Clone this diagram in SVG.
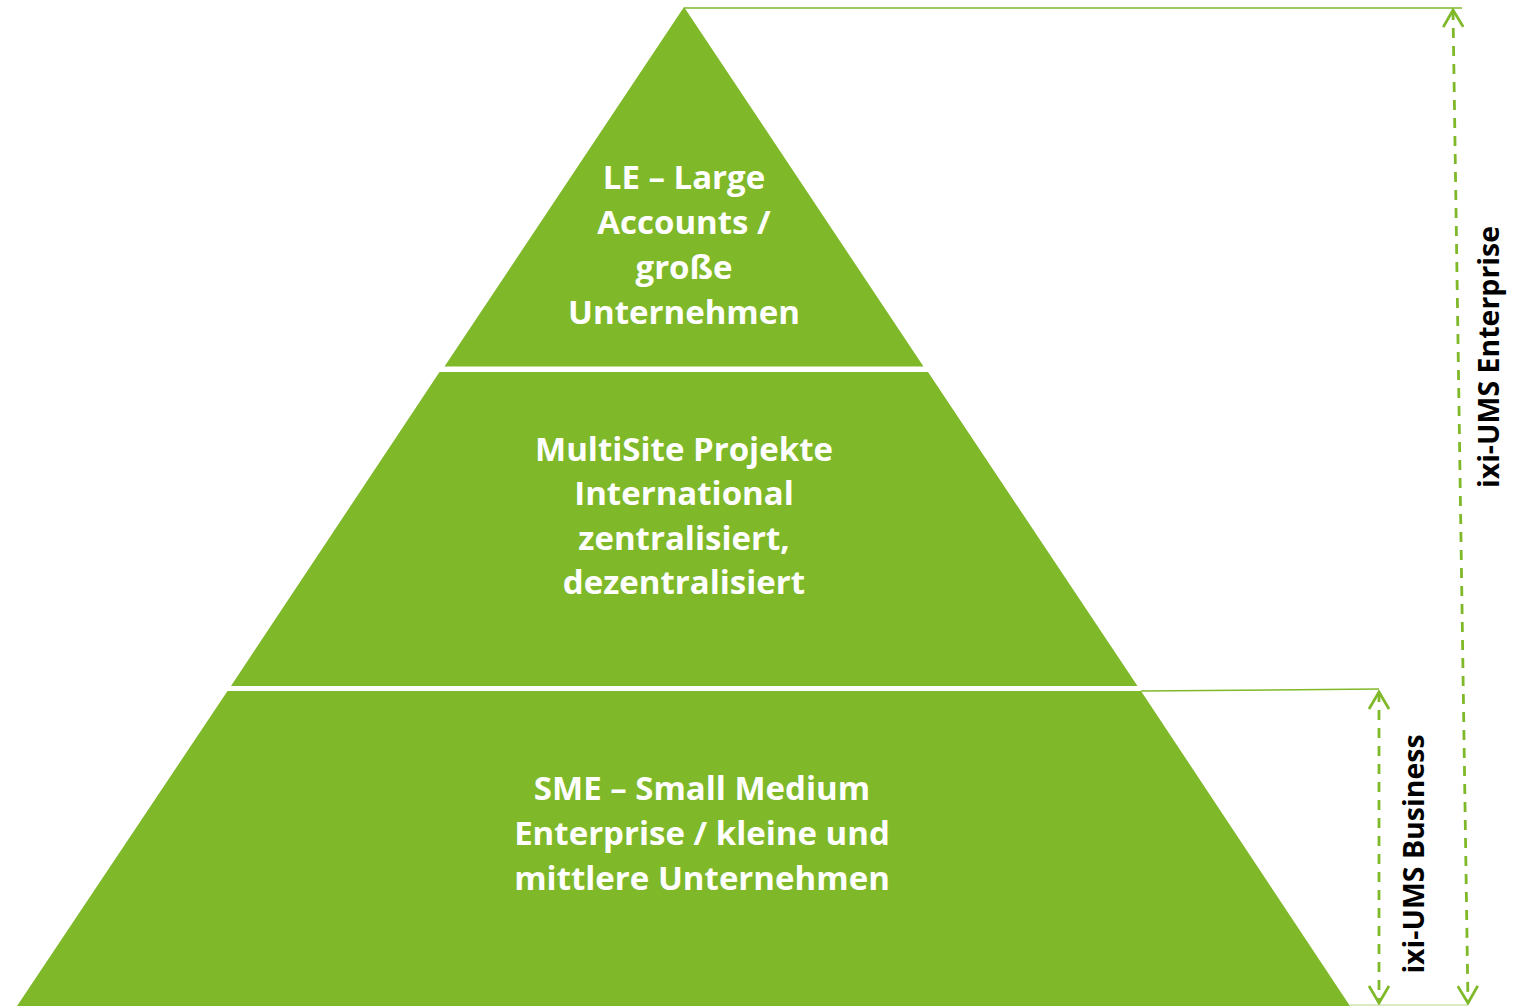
<svg xmlns="http://www.w3.org/2000/svg" width="1529" height="1006" viewBox="0 0 1529 1006">
<defs>
<style>
.seg{fill:#7fb92a}
.lbl{font-family:"Open Sans",Lato,"Liberation Sans",sans-serif;font-weight:700;font-size:33px;fill:#ffffff;text-anchor:middle}
.side{font-family:"Open Sans",Lato,"Liberation Sans",sans-serif;font-weight:700;font-size:28.5px;fill:#000000;text-anchor:middle}
.thin{stroke:#7fb92a;stroke-width:1.5;fill:none}
.dash{stroke:#7fb92a;stroke-width:2.8;fill:none;stroke-dasharray:10 8}
</style>
<marker id="ah" viewBox="0 0 20 22" refX="18" refY="11" markerWidth="20" markerHeight="22" markerUnits="userSpaceOnUse" orient="auto-start-reverse">
<path d="M1,1 L18,11 L1,21" fill="none" stroke="#7fb92a" stroke-width="2.8"/>
</marker>
</defs>
<rect width="1529" height="1006" fill="#ffffff"/>
<g id="node-le">
<polygon class="seg" points="684,7 923.5,366.5 444.5,366.5"/>
<text class="lbl" x="684" y="189">LE – Large</text>
<text class="lbl" x="684" y="234">Accounts /</text>
<text class="lbl" x="684" y="279">große</text>
<text class="lbl" x="684" y="324">Unternehmen</text>
</g>
<g id="node-multisite">
<polygon class="seg" points="439.5,372 928,372 1137.5,686 231,686"/>
<text class="lbl" x="684" y="461">MultiSite Projekte</text>
<text class="lbl" x="684" y="505">International</text>
<text class="lbl" x="684" y="550">zentralisiert,</text>
<text class="lbl" x="684" y="594">dezentralisiert</text>
</g>
<g id="node-sme">
<polygon class="seg" points="227.5,691 1141,691 1350,1006 17,1006"/>
<text class="lbl" x="702" y="800">SME – Small Medium</text>
<text class="lbl" x="702" y="845">Enterprise / kleine und</text>
<text class="lbl" x="702" y="890">mittlere Unternehmen</text>
</g>
<g id="connectors">
<line class="thin" x1="684" y1="8" x2="1462" y2="8"/>
<line class="thin" x1="1141" y1="691" x2="1379" y2="689"/>
<line x1="1350" y1="1005" x2="1468" y2="1005" stroke="#cfe3b0" stroke-width="1.5"/>
<line class="dash" x1="1453" y1="10" x2="1468" y2="1003" marker-start="url(#ah)" marker-end="url(#ah)"/>
<line class="dash" x1="1379" y1="692" x2="1379" y2="1003" marker-start="url(#ah)" marker-end="url(#ah)"/>
</g>
<g id="label-enterprise">
<text class="side" transform="translate(1499,357) rotate(-90)">ixi-UMS Enterprise</text>
</g>
<g id="label-business">
<text class="side" transform="translate(1424,854) rotate(-90)">ixi-UMS Business</text>
</g>
</svg>
